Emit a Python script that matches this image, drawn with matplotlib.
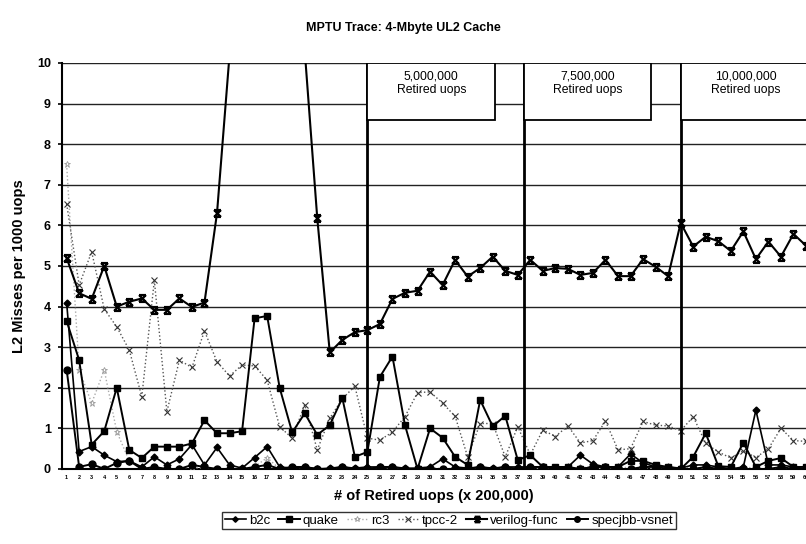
import numpy as np
import matplotlib
matplotlib.use('Agg')
import matplotlib.pyplot as plt
from matplotlib.path import Path
from matplotlib.patches import Rectangle

plt.rcParams['font.family'] = ['Liberation Sans', 'DejaVu Sans']

# data (x = sample number, x 200,000 uops)
idx = np.arange(1, 61)

b2c = [4.1, 0.43, 0.55, 0.34, 0.18, 0.2, 0.05, 0.3, 0.1, 0.25,
       0.6, 0.1, 0.53, 0.1, 0.02, 0.28, 0.55, 0.05, 0.02, 0.05,
       0.0, 0.02, 0.05, 0.02, 0.05, 0.05, 0.05, 0.02, 0.02, 0.05,
       0.25, 0.05, 0.02, 0.05, 0.02, 0.05, 0.05, 0.05, 0.05, 0.02,
       0.05, 0.34, 0.12, 0.05, 0.05, 0.37, 0.15, 0.05, 0.05, 0.02,
       0.1, 0.1, 0.05, 0.0, 0.05, 1.45, 0.1, 0.1, 0.05, 0.0]

quake = [3.65, 2.68, 0.6, 0.93, 2.0, 0.47, 0.27, 0.55, 0.55, 0.55,
         0.63, 1.2, 0.88, 0.88, 0.93, 3.71, 3.77, 2.0, 0.9, 1.37,
         0.84, 1.08, 1.75, 0.3, 0.42, 2.27, 2.77, 1.08, 0.0, 1.0,
         0.77, 0.3, 0.1, 1.7, 1.05, 1.31, 0.22, 0.34, 0.05, 0.05,
         0.05, 0.0, 0.05, 0.05, 0.05, 0.2, 0.2, 0.1, 0.05, 0.0,
         0.3, 0.88, 0.07, 0.05, 0.65, 0.05, 0.2, 0.27, 0.05, 0.05]

rc3 = [7.5, 2.44, 1.62, 2.44, 0.92, 0.2, 0.0, 0.05, 0.0, 0.02,
       0.05, 0.0, 0.0, 0.02, 0.0, 0.05, 0.28, 0.0, 0.02, 0.05,
       0.02, 0.0, 0.05, 0.02, 0.0, 0.05, 0.02, 0.0, 0.02, 0.05,
       0.0, 0.02, 0.0, 0.05, 0.02, 0.0, 0.02, 0.05, 0.0, 0.02,
       0.0, 0.05, 0.02, 0.0, 0.02, 0.05, 0.0, 0.02, 0.0, 0.02,
       0.05, 0.0, 0.02, 0.0, 0.05, 0.02, 0.0, 0.05, 0.0, 0.02]

tpcc2 = [6.53, 4.53, 5.35, 3.94, 3.5, 2.93, 1.78, 4.65, 1.41, 2.68,
         2.5, 3.4, 2.64, 2.29, 2.56, 2.54, 2.19, 1.04, 0.76, 1.58,
         0.47, 1.25, 1.73, 2.04, 0.76, 0.71, 0.91, 1.29, 1.88, 1.9,
         1.62, 1.3, 0.3, 1.12, 1.12, 0.3, 1.04, 0.35, 0.96, 0.8,
         1.06, 0.64, 0.7, 1.18, 0.47, 0.5, 1.17, 1.08, 1.06, 0.94,
         1.29, 0.63, 0.42, 0.27, 0.45, 0.28, 0.5, 1.0, 0.7, 0.68]

# 14..20 run off the top of the chart
verilog = [5.2, 4.33, 4.19, 5.0, 4.0, 4.12, 4.2, 3.92, 3.92, 4.2,
           3.99, 4.1, 6.3, 10.2, 12.5, 14.0, 13.0, 12.0, 11.5, 10.3,
           6.18, 2.87, 3.18, 3.37, 3.42, 3.57, 4.19, 4.34, 4.39, 4.86,
           4.53, 5.15, 4.74, 4.95, 5.23, 4.88, 4.78, 5.15, 4.88, 4.95,
           4.93, 4.78, 4.83, 5.15, 4.75, 4.75, 5.17, 4.98, 4.75, 6.06,
           5.48, 5.72, 5.61, 5.37, 5.85, 5.17, 5.6, 5.23, 5.79, 5.5]

specjbb = [2.45, 0.05, 0.12, 0.0, 0.15, 0.2, 0.0, 0.05, 0.0, 0.0,
           0.1, 0.05, 0.0, 0.0, 0.0, 0.05, 0.1, 0.0, 0.05, 0.05,
           0.0, 0.0, 0.05, 0.0, 0.0, 0.05, 0.05, 0.0, 0.0, 0.0,
           0.0, 0.0, 0.0, 0.05, 0.0, 0.05, 0.0, 0.05, 0.05, 0.0,
           0.0, 0.0, 0.05, 0.05, 0.0, 0.0, 0.05, 0.05, 0.0, 0.0,
           0.0, 0.05, 0.0, 0.0, 0.0, 0.0, 0.0, 0.05, 0.0, 0.0]

marks = [25, 37.5, 50]
mark_labels = ['5,000,000\nRetired uops', '7,500,000\nRetired uops',
               '10,000,000\nRetired uops']
box_right = [35.15, 47.6, 62]

# x with bars on top and bottom, like the excel marker
hourglass = Path([(-1, 1), (1, -1), (-1, -1), (1, 1), (-1, 1), (1, 1), (-1, -1), (1, -1)],
                 [Path.MOVETO, Path.LINETO, Path.MOVETO, Path.LINETO,
                  Path.MOVETO, Path.LINETO, Path.MOVETO, Path.LINETO])

fig = plt.figure(figsize=(8.06, 5.44), dpi=100)
ax = fig.add_axes([0.0769, 0.1379, 0.9231, 0.7463])

for v in range(11):
    ax.axhline(v, color='#222222', lw=1.0, zorder=1)

ax.plot(idx, rc3, color='#aaaaaa', ls=':', lw=1, marker='*', ms=5,
        mfc='white', mec='#999999', mew=0.6, label='rc3', zorder=3)
ax.plot(idx, tpcc2, color='#555555', ls=':', lw=1, marker='x', ms=5,
        mec='#333333', mew=0.8, label='tpcc-2', zorder=3)
ax.plot(idx, b2c, color='black', lw=1.2, marker='D', ms=3.5, label='b2c', zorder=4)
ax.plot(idx, quake, color='black', lw=1.4, marker='s', ms=5, label='quake', zorder=4)
ax.plot(idx, verilog, color='black', lw=1.5, marker=hourglass, ms=5, mfc='none',
        mew=1.6, label='verilog-func', zorder=5)
ax.plot(idx, specjbb, color='black', lw=1.4, marker='o', ms=5, label='specjbb-vsnet', zorder=4)

for m, txt, r in zip(marks, mark_labels, box_right):
    ax.axvline(m, color='black', lw=2, zorder=6)
    ax.add_patch(Rectangle((m, 8.6), r - m, 1.4, fill=True, fc='white',
                           ec='black', lw=1.3, zorder=6, clip_on=True))
    cx = m + 5.1 if r < 60 else m + 5.2
    ax.text(cx, 9.5, txt, ha='center', va='center', fontsize=8.8,
            linespacing=1.2, zorder=7)

ax.set_xlim(0.63, 59.56)
ax.set_ylim(0, 10)
ax.set_xticks(idx)
ax.set_xticklabels([str(i) for i in idx], fontsize=4, fontweight='bold')
ax.set_yticks(range(11))
ax.set_yticklabels([str(v) for v in range(11)], fontsize=9, fontweight='bold')
ax.tick_params(axis='x', length=0, pad=4)
ax.tick_params(axis='y', length=3, width=1.2, pad=5)

for s in ['top', 'right']:
    ax.spines[s].set_visible(False)
ax.spines['left'].set_linewidth(1.5)
ax.spines['bottom'].set_linewidth(1.5)

ax.set_xlabel('# of Retired uops (x 200,000)', fontsize=10.5, fontweight='bold', labelpad=7)
ax.set_ylabel('L2 Misses per 1000 uops', fontsize=10.5, fontweight='bold', labelpad=8)
fig.text(0.5, 0.948, 'MPTU Trace: 4-Mbyte UL2 Cache', ha='center', va='center',
         fontsize=9, fontweight='bold')

h, l = ax.get_legend_handles_labels()
order = ['b2c', 'quake', 'rc3', 'tpcc-2', 'verilog-func', 'specjbb-vsnet']
hh = [h[l.index(o)] for o in order]
leg = fig.legend(hh, order, loc='center', bbox_to_anchor=(0.557, 0.043), ncol=6,
                 fontsize=9.5, frameon=True, fancybox=False, edgecolor='black',
                 handlelength=1.6, handletextpad=0.25, columnspacing=0.6,
                 borderpad=0.2, markerscale=0.8)
leg.get_frame().set_linewidth(1.0)

fig.savefig('out.png', dpi=100)
